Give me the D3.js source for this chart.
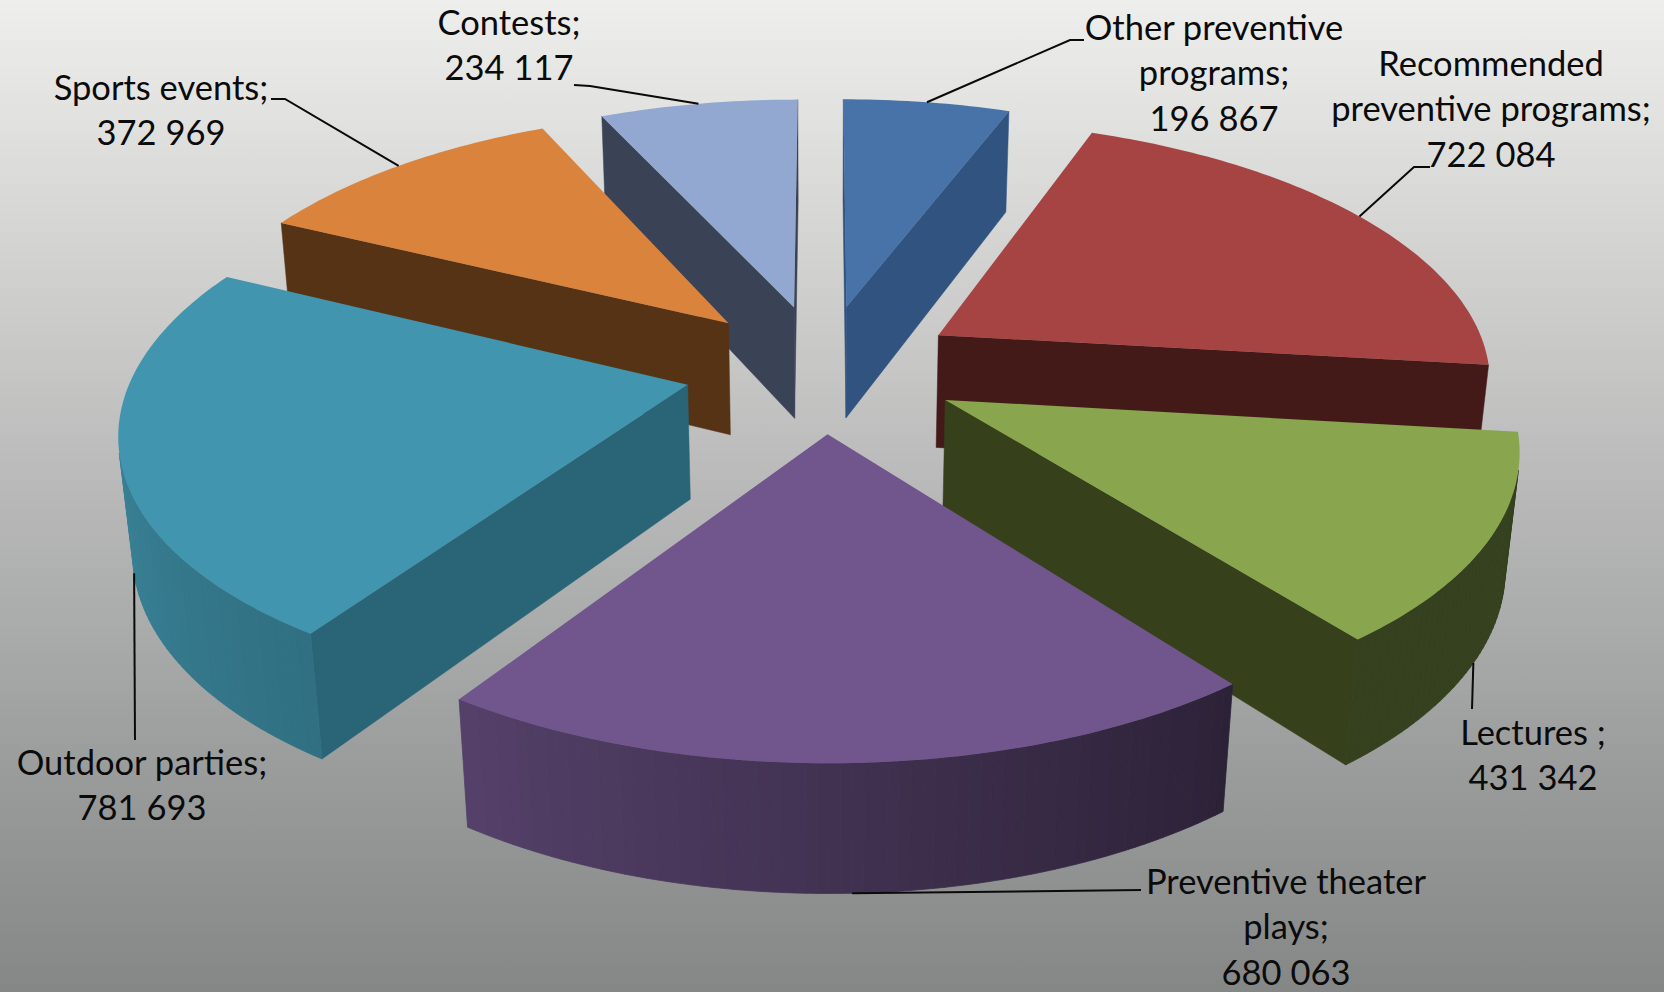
<!DOCTYPE html>
<html>
<head>
<meta charset="utf-8">
<script src="https://cdn.jsdelivr.net/npm/d3@7"></script>
<style>
html, body { margin: 0; padding: 0; background: #888; overflow: hidden; }
text { font-family: Lato, "Open Sans", sans-serif; font-size: 34.5px; fill: #0b0b0b; text-anchor: middle; }
</style>
</head>
<body>
<div id="chart"></div>
<script>
// chart data
const categories = ["Other preventive programs", "Recommended preventive programs", "Lectures", "Preventive theater plays", "Outdoor parties", "Sports events", "Contests"];
const values = [196867, 722084, 431342, 680063, 781693, 372969, 234117];
const valueLabels = ["196 867", "722 084", "431 342", "680 063", "781 693", "372 969", "234 117"];
const labelLines = [
  ["Other preventive", "programs;", "196 867"],
  ["Recommended", "preventive programs;", "722 084"],
  ["Lectures ;", "431 342"],
  ["Preventive theater", "plays;", "680 063"],
  ["Outdoor parties;", "781 693"],
  ["Sports events;", "372 969"],
  ["Contests;", "234 117"]
];

// styles
const topColors = ["#4873a8", "#a64444", "#89a54e", "#71568d", "#4195ae", "#d9833d", "#92a8d0"];
const faceColors = ["#31537f", "#441a18", "#36411c", "#3f2f55", "#2a6577", "#573316", "#3a4256"];

// label layout: center x, first baseline, start of the leader, elbow
const labelPos = [
  { x: 1214, y: 40, from: [1084, 40], elbow: [1070, 40] },
  { x: 1491, y: 76, from: [1430, 167], elbow: [1414, 167] },
  { x: 1533, y: 745, from: [1472, 709], elbow: null },
  { x: 1286, y: 894, from: [1141, 890], elbow: null },
  { x: 142, y: 775, from: [135, 740], elbow: null },
  { x: 161, y: 100, from: [271, 99], elbow: [285, 99] },
  { x: 509, y: 35, from: [574, 85], elbow: [590, 86] }
];
const lineGap = 45.3;

const width = 1664;
const height = 992;

// perspective view of the tilted disc
const cx = 822.5, cy = 367.8, rx = 553, ry = 256.3, depth = 116;
const perspX = 0.155, perspY = 0.152, perspZ = 0.02, explode = 0.25;

function project(x, y, z) {
  const sx = 1 / (1 + perspX * y + perspZ * z);
  const sy = 1 / (1 + perspY * y + perspZ * z);
  return [cx + rx * x * sx, cy + (-ry * y + depth * z) * sy];
}

// a point of slice d: r along the radius, a the angle clockwise from the top
function slicePoint(d, r, a, z) {
  const mid = (d.startAngle + d.endAngle) / 2;
  return project(r * Math.sin(a) + explode * Math.sin(mid), r * Math.cos(a) + explode * Math.cos(mid), z);
}

function area(p) {
  return d3.polygonArea(p);
}

const svg = d3.select("#chart").append("svg")
  .attr("width", width)
  .attr("height", height)
  .style("display", "block");

const defs = svg.append("defs");
const bg = defs.append("linearGradient").attr("id", "bg").attr("x1", 0).attr("y1", 0).attr("x2", 0).attr("y2", 1);
[[0, "#eeeeec"], [0.25, "#d3d3d2"], [0.5, "#b8b8b8"], [0.75, "#9d9f9f"], [1, "#858787"]].forEach(s => {
  bg.append("stop").attr("offset", s[0]).attr("stop-color", s[1]);
});
svg.append("rect").attr("width", width).attr("height", height).attr("fill", "url(#bg)");

const pie = d3.pie().sort(null).value(d => d);
const arcs = pie(values).map((d, i) => Object.assign(d, { i: i }));
const line = d3.line();

// shading of the curved wall by angle (degrees)
const rimShade = d3.scaleLinear().domain([0, 142, 214, 296, 360]).range([0.39, 0.39, 0.75, 0.97, 0.97]);

// back slices first
const order = arcs.slice().sort((a, b) =>
  Math.cos((b.startAngle + b.endAngle) / 2) - Math.cos((a.startAngle + a.endAngle) / 2));

const slices = svg.selectAll("g.slice").data(order).join("g").attr("class", "slice");

slices.each(function(d) {
  const g = d3.select(this);
  const step = Math.PI / 180;
  const n = Math.max(2, Math.ceil((d.endAngle - d.startAngle) / step));
  const angles = d3.range(n + 1).map(k => d.startAngle + (d.endAngle - d.startAngle) * k / n);

  // radial walls, only when they face the viewer
  const wall = a => [slicePoint(d, 0, a, 0), slicePoint(d, 1, a, 0), slicePoint(d, 1, a, 1), slicePoint(d, 0, a, 1)];
  const startWall = wall(d.startAngle);
  const endWall = wall(d.endAngle);
  [[startWall, area(startWall)], [endWall, -area(endWall)]].forEach(w => {
    if (w[1] > 0) {
      g.append("path").attr("d", line(w[0]) + "Z").attr("fill", faceColors[d.i]).attr("stroke", faceColors[d.i]).attr("stroke-width", 0.5);
    }
  });

  // curved wall in strips
  d3.pairs(angles).forEach(p => {
    const q = [slicePoint(d, 1, p[0], 0), slicePoint(d, 1, p[1], 0), slicePoint(d, 1, p[1], 1), slicePoint(d, 1, p[0], 1)];
    if (area(q) > 0) {
      const c = d3.rgb(topColors[d.i]).copy();
      const k = rimShade((p[0] + p[1]) / 2 * 180 / Math.PI);
      const col = d3.rgb(c.r * k, c.g * k, c.b * k).formatHex();
      g.append("path").attr("d", line(q) + "Z").attr("fill", col).attr("stroke", col).attr("stroke-width", 0.8);
    }
  });

  // top face
  const top = [slicePoint(d, 0, d.startAngle, 0)].concat(angles.map(a => slicePoint(d, 1, a, 0)));
  g.append("path").attr("d", line(top) + "Z").attr("fill", topColors[d.i]);
});

// leader lines end on the rim at the middle of each slice
const leaders = svg.append("g").attr("fill", "none").attr("stroke", "#0a0a0a").attr("stroke-width", 2);
arcs.forEach(d => {
  const mid = (d.startAngle + d.endAngle) / 2;
  const front = Math.cos(mid) < 0;
  const end = slicePoint(d, 1, mid, front ? 1 : 0);
  const pos = labelPos[d.i];
  const pts = pos.elbow ? [pos.from, pos.elbow, end] : [pos.from, end];
  leaders.append("path").attr("d", line(pts));
});

// labels
const labels = svg.append("g").selectAll("g").data(arcs).join("g");
labels.selectAll("text").data(d => labelLines[d.i].map((t, k) => ({ t: t, k: k, i: d.i }))).join("text")
  .attr("x", d => labelPos[d.i].x)
  .attr("y", d => labelPos[d.i].y + d.k * lineGap)
  .text(d => d.t);
</script>
</body>
</html>
